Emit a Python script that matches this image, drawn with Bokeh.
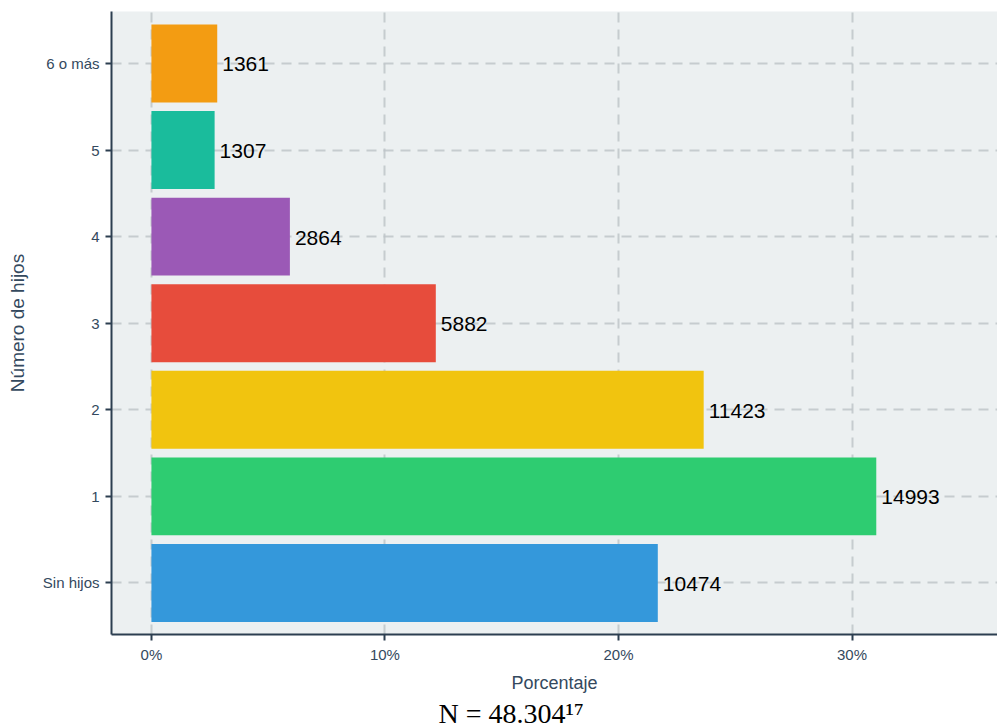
from bokeh.plotting import figure
from bokeh.models import Range1d, FixedTicker, PrintfTickFormatter, ColumnDataSource, Title
from bokeh.embed import file_html
from bokeh.resources import INLINE
from bokeh.core.properties import value

# Data
categories = ["Sin hijos", "1", "2", "3", "4", "5", "6 o más"]
counts = [10474, 14993, 11423, 5882, 2864, 1307, 1361]
colors = ["#3498DB", "#2ECC71", "#F1C40F", "#E74C3C", "#9B59B6", "#1ABC9C", "#F39C12"]
total = sum(counts)
percent = [c / total * 100 for c in counts]
x_ticks = [0, 10, 20, 30]
footnote_text = "N = " + f"{total:,}".replace(",", ".") + "\u00b9\u2077"

idx = list(range(len(categories)))
src = ColumnDataSource(dict(y=idx, pct=percent, cnt=[str(c) for c in counts], color=colors))

p = figure(width=997, height=728, output_backend="svg", toolbar_location=None,
           x_range=Range1d(-1.71, 36.23), y_range=Range1d(-0.595, 6.6),
           min_border_left=111, min_border_top=11, min_border_bottom=94, min_border_right=0)
p.background_fill_color = "#ECF0F1"
p.border_fill_color = "white"
p.outline_line_color = None

p.hbar(y="y", left=0, right="pct", height=0.9, color="color", line_color=None, source=src)
p.text(x="pct", y="y", text="cnt", source=src, x_offset=5, y_offset=1,
       text_baseline="alphabetic", text_align="left",
       text_font=value("Liberation Sans"), text_font_size="21px", text_color="black")

# grid
for g in (p.xgrid, p.ygrid):
    g.grid_line_color = "#BDC3C7"
    g.grid_line_width = 2
    g.grid_line_dash = "10 7"
    g.grid_line_alpha = 0.8
p.xgrid.ticker = FixedTicker(ticks=x_ticks)
p.ygrid.ticker = FixedTicker(ticks=idx)

axis_col = "#2C3E50"
text_col = "#34495E"
p.xaxis.ticker = FixedTicker(ticks=x_ticks)
p.xaxis.formatter = PrintfTickFormatter(format="%d%%")
p.yaxis.ticker = FixedTicker(ticks=idx)
p.yaxis.major_label_overrides = {i: c for i, c in zip(idx, categories)}
p.xaxis.axis_label = "Porcentaje"
p.yaxis.axis_label = "Número de hijos"
for ax in (p.xaxis, p.yaxis):
    ax.axis_line_color = axis_col
    ax.axis_line_width = 2
    ax.major_tick_line_color = axis_col
    ax.major_tick_line_width = 2
    ax.major_tick_out = 6
    ax.major_tick_in = 0
    ax.minor_tick_line_color = None
    ax.major_label_text_font = "Liberation Sans"
    ax.major_label_text_font_size = "15px"
    ax.major_label_text_color = text_col
    ax.axis_label_text_font = "Liberation Sans"
    ax.axis_label_text_font_style = "normal"
    ax.axis_label_text_color = text_col
p.xaxis.axis_label_text_font_size = "18px"
p.yaxis.axis_label_text_font_size = "19px"
p.xaxis.major_label_standoff = 5
p.xaxis.axis_label_standoff = 7
p.yaxis.major_label_standoff = 6
p.yaxis.axis_label_standoff = 12

# footnote below the axis
p.add_layout(Title(text=footnote_text, align="left", offset=327, standoff=0,
                   text_font="Liberation Serif", text_font_size="28px",
                   text_font_style="normal", text_color="black"), "below")

open("out.html", "w").write(file_html(p, INLINE))
